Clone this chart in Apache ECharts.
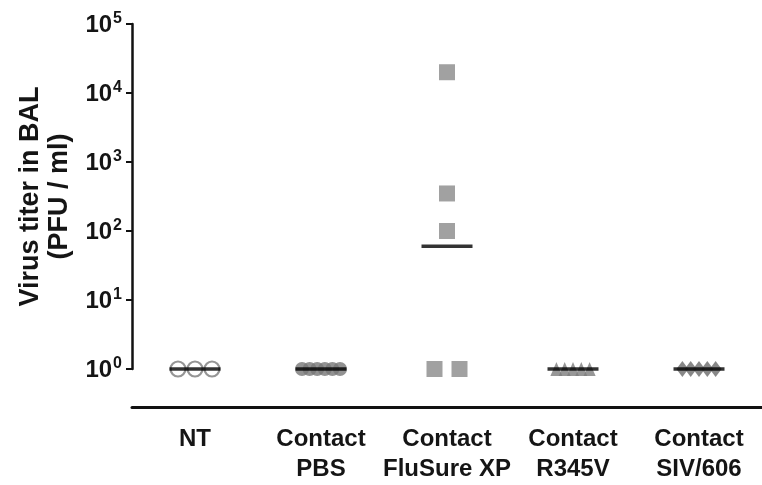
<!DOCTYPE html>
<html>
<head>
<meta charset="utf-8">
<script src="https://cdn.jsdelivr.net/npm/echarts@6/dist/echarts.min.js"></script>
<style>html,body{margin:0;padding:0;background:#fff;}#c{width:762px;height:485px;}</style>
</head>
<body>
<div id="c"></div>
<script>
// ---- data ----
var categories = ['NT', 'Contact\nPBS', 'Contact\nFluSure XP', 'Contact\nR345V', 'Contact\nSIV/606'];
var ntValues = [1, 1, 1];
var pbsValues = [1, 1, 1, 1, 1, 1];
var flusureValues = [20000, 350, 100, 1, 1];
var r345vValues = [1, 1, 1, 1, 1];
var siv606Values = [1, 1, 1, 1, 1];
var meanValues = [1, 1, 60, 1, 1];
var yTickExponents = [0, 1, 2, 3, 4, 5];

// ---- styling ----
var FONT = '"Liberation Sans", Arial, Helvetica, sans-serif';
var TXT = '#151515';
var GRAY = '#8a8a8a';

// beeswarm-style spread: points sharing a value spread evenly around the category centre
function spread(catIdx, values, spacing) {
  var groups = {};
  values.forEach(function (v, i) { (groups[v] = groups[v] || []).push(i); });
  var out = [];
  Object.keys(groups).forEach(function (k) {
    var idx = groups[k];
    var n = idx.length;
    idx.forEach(function (i, j) {
      out.push({ value: [catIdx, values[i]], symbolOffset: [(j - (n - 1) / 2) * spacing, 0] });
    });
  });
  return out;
}

var chart = echarts.init(document.getElementById('c'), null, { renderer: 'canvas' });
chart.setOption({
  animation: false,
  backgroundColor: '#fff',
  grid: { left: 132, top: 24, bottom: 116, width: 635 },
  xAxis: {
    type: 'category',
    data: categories,
    offset: 38,
    axisLine: { lineStyle: { color: '#111', width: 3 } },
    axisTick: { alignWithLabel: true, length: 10, lineStyle: { color: '#111', width: 2 } },
    axisLabel: { margin: 17, fontFamily: FONT, fontWeight: 'bold', fontSize: 24, lineHeight: 30, color: TXT, interval: 0 },
    splitLine: { show: false }
  },
  yAxis: {
    type: 'log',
    logBase: 10,
    min: 1,
    max: 100000,
    name: 'Virus titer in BAL\n(PFU / ml)',
    nameLocation: 'middle',
    nameRotate: 90,
    nameGap: 54,
    nameTextStyle: { fontFamily: FONT, fontWeight: 'bold', fontSize: 27, lineHeight: 29, color: TXT },
    axisLine: { show: true, lineStyle: { color: '#111', width: 2.5 } },
    axisTick: { show: true, length: 6, lineStyle: { color: '#111', width: 2 } },
    splitLine: { show: false },
    axisLabel: {
      margin: 10,
      formatter: function (v) {
        var e = Math.round(Math.log10(v));
        if (yTickExponents.indexOf(e) < 0) return '';
        return '{n|10}{e|' + e + '}';
      },
      rich: {
        n: { fontFamily: FONT, fontWeight: 'bold', fontSize: 24, color: TXT, lineHeight: 26, verticalAlign: 'bottom' },
        e: { fontFamily: FONT, fontWeight: 'bold', fontSize: 16, color: TXT, lineHeight: 26, verticalAlign: 'top', padding: [0, 0, 10, 1] }
      }
    }
  },
  series: [
    {
      type: 'scatter', name: 'NT',
      symbol: 'circle', symbolSize: 15,
      itemStyle: { color: 'rgba(255,255,255,0)', borderColor: '#7a7a7a', borderWidth: 2.2 },
      data: spread(0, ntValues, 17), z: 2
    },
    {
      type: 'scatter', name: 'PBS',
      symbol: 'circle', symbolSize: 14,
      itemStyle: { color: '#777' },
      data: spread(1, pbsValues, 7.6), z: 2
    },
    {
      type: 'scatter', name: 'FluSure XP',
      symbol: 'rect', symbolSize: 16,
      itemStyle: { color: GRAY },
      data: spread(2, flusureValues, 25), z: 2
    },
    {
      type: 'scatter', name: 'R345V',
      symbol: 'triangle', symbolSize: [12, 14],
      itemStyle: { color: '#7d7d7d' },
      data: spread(3, r345vValues, 8.3), z: 2
    },
    {
      type: 'scatter', name: 'SIV/606',
      symbol: 'diamond', symbolSize: [12, 16],
      itemStyle: { color: '#6a6a6a' },
      data: spread(4, siv606Values, 8.3), z: 2
    },
    {
      type: 'scatter', name: 'mean',
      symbol: 'rect', symbolSize: [51, 3.5],
      itemStyle: { color: '#000' },
      data: meanValues.map(function (v, i) { return [i, v]; }), z: 5
    }
  ]
});
</script>
</body>
</html>
